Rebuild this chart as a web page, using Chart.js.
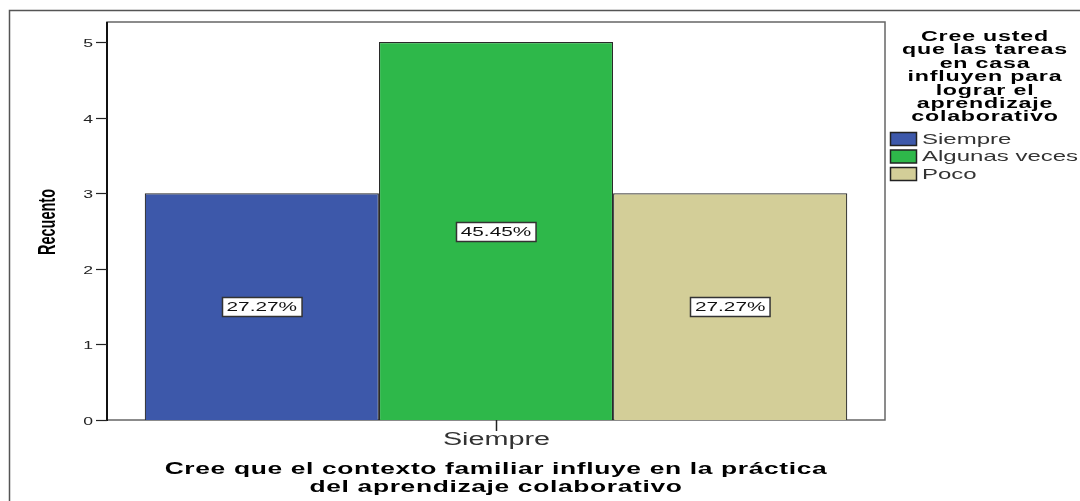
<!DOCTYPE html>
<html>
<head>
<meta charset="utf-8">
<script src="https://cdn.jsdelivr.net/npm/chart.js@4/dist/chart.umd.min.js"></script>
<style>
html,body{margin:0;padding:0;background:#fff;}
#wrap{width:1080px;height:501px;position:relative;}
</style>
</head>
<body>
<div id="wrap"><canvas id="c" width="1080" height="501"></canvas></div>
<script>
// ---- data ----
const categories = ['Siempre'];
const seriesNames = ['Siempre', 'Algunas veces', 'Poco'];
const siempreValues = [3];
const algunasVecesValues = [5];
const pocoValues = [3];
const yTicks = [0, 1, 2, 3, 4, 5];
const yTitle = 'Recuento';
const xTitle = ['Cree que el contexto familiar influye en la práctica', 'del aprendizaje colaborativo'];
const legendTitle = ['Cree usted', 'que las tareas', 'en casa', 'influyen para', 'lograr el', 'aprendizaje', 'colaborativo'];

const colors = ['#3D58AA', '#2EB84A', '#D3CE98'];
const SX = 1.6; // horizontal text stretch of the original picture
const FONT = '"Liberation Sans", Arial, sans-serif';

function sText(ctx, text, x, y, font, align, color, ls) {
  ctx.save();
  ctx.translate(x, y);
  ctx.scale(SX, 1);
  ctx.font = font;
  if (ls) ctx.letterSpacing = ls + 'px';
  ctx.fillStyle = color || '#000';
  ctx.textAlign = align || 'left';
  ctx.textBaseline = 'middle';
  ctx.fillText(text, 0, 0);
  ctx.restore();
}
function sWidth(ctx, text, font) {
  ctx.save(); ctx.font = font; const w = ctx.measureText(text).width * SX; ctx.restore(); return w;
}

const decor = {
  id: 'decor',
  beforeDatasetsDraw(chart) {
    const ctx = chart.ctx, a = chart.chartArea;
    ctx.save();
    ctx.strokeStyle = '#555'; ctx.lineWidth = 1.5;
    ctx.beginPath();
    ctx.moveTo(9.5, 520); ctx.lineTo(9.5, 10.5); ctx.lineTo(1100, 10.5);
    ctx.stroke();
    ctx.strokeStyle = '#666'; ctx.lineWidth = 1.5;
    ctx.strokeRect(a.left, a.top, a.right - a.left, a.bottom - a.top);
    ctx.restore();
  },
  afterDatasetsDraw(chart) {
    const ctx = chart.ctx, a = chart.chartArea;
    const ys = chart.scales.y, xs = chart.scales.x;
    ctx.save();
    ctx.strokeStyle = '#111'; ctx.lineWidth = 2;
    ctx.beginPath(); ctx.moveTo(a.left, a.top); ctx.lineTo(a.left, a.bottom + 1); ctx.stroke();
    ctx.lineWidth = 1.2;
    yTicks.forEach(v => {
      const py = Math.round(ys.getPixelForValue(v)) + 0.5;
      ctx.strokeStyle = '#222';
      ctx.beginPath(); ctx.moveTo(a.left - 11, py); ctx.lineTo(a.left, py); ctx.stroke();
      sText(ctx, String(v), a.left - 14, py + 1, '11px ' + FONT, 'right', '#222');
    });
    categories.forEach((c, i) => {
      const px = Math.round(xs.getPixelForValue(i)) + 0.5;
      ctx.strokeStyle = '#222'; ctx.lineWidth = 1.5;
      ctx.beginPath(); ctx.moveTo(px, a.bottom); ctx.lineTo(px, a.bottom + 11); ctx.stroke();
      sText(ctx, c, px, a.bottom + 20, '18px ' + FONT, 'center', '#333');
    });
    const cx = (a.left + a.right) / 2;
    xTitle.forEach((t, i) => sText(ctx, t, cx, 469 + i * 18, 'bold 16.5px ' + FONT, 'center', '#000', 0.4));
    ctx.save();
    ctx.translate(49, (a.top + a.bottom) / 2 + 1);
    ctx.scale(SX, 1);
    ctx.rotate(-Math.PI / 2);
    ctx.font = 'bold 14.5px ' + FONT;
    ctx.fillStyle = '#000'; ctx.textAlign = 'center'; ctx.textBaseline = 'middle';
    ctx.fillText(yTitle, 0, 0);
    ctx.restore();

    const total = chart.data.datasets.reduce((s, d) => s + d.data.reduce((p, q) => p + q, 0), 0);
    chart.data.datasets.forEach((ds, di) => {
      const meta = chart.getDatasetMeta(di);
      meta.data.forEach((bar, j) => {
        const v = ds.data[j];
        const txt = (v / total * 100).toFixed(2) + '%';
        const yMid = ys.getPixelForValue(v / 2);
        const f = '13px ' + FONT;
        const w = sWidth(ctx, txt, f) + 9;
        const h = 19;
        const bx = Math.round(bar.x - w / 2) + 0.5, by = Math.round(yMid - h / 2) + 0.5;
        ctx.fillStyle = '#fff'; ctx.fillRect(bx, by, w, h);
        ctx.strokeStyle = '#333'; ctx.lineWidth = 1.5; ctx.strokeRect(bx, by, w, h);
        sText(ctx, txt, bar.x, yMid + 1, f, 'center', '#111');
      });
    });

    const lx = 985;
    legendTitle.forEach((t, i) => sText(ctx, t, lx, 37 + i * 13.4, 'bold 14.5px ' + FONT, 'center', '#000', 0.5));
    chart.data.datasets.forEach((ds, i) => {
      const by = 132 + i * 17.5;
      ctx.fillStyle = ds.backgroundColor;
      ctx.fillRect(890.5, by + 0.5, 26, 13);
      ctx.strokeStyle = '#222'; ctx.lineWidth = 1.5;
      ctx.strokeRect(890.5, by + 0.5, 26, 13);
      sText(ctx, ds.label, 922, by + 7.5, '15px ' + FONT, 'left', '#333');
    });
    ctx.restore();
  }
};

new Chart(document.getElementById('c'), {
  type: 'bar',
  data: {
    labels: categories,
    datasets: [
      { label: seriesNames[0], data: siempreValues, backgroundColor: colors[0] },
      { label: seriesNames[1], data: algunasVecesValues, backgroundColor: colors[1] },
      { label: seriesNames[2], data: pocoValues, backgroundColor: colors[2] }
    ].map(d => Object.assign(d, { borderColor: '#2a2a2a', borderWidth: 1.2, categoryPercentage: 0.903, barPercentage: 1.0 }))
  },
  options: {
    responsive: false,
    animation: false,
    devicePixelRatio: 1,
    layout: { padding: { left: 107, top: 22, right: 195, bottom: 81 } },
    plugins: { legend: { display: false }, tooltip: { enabled: false }, title: { display: false } },
    scales: {
      x: { display: false, offset: true },
      y: { display: false, min: 0, max: 5.265 }
    }
  },
  plugins: [decor]
});
</script>
</body>
</html>
